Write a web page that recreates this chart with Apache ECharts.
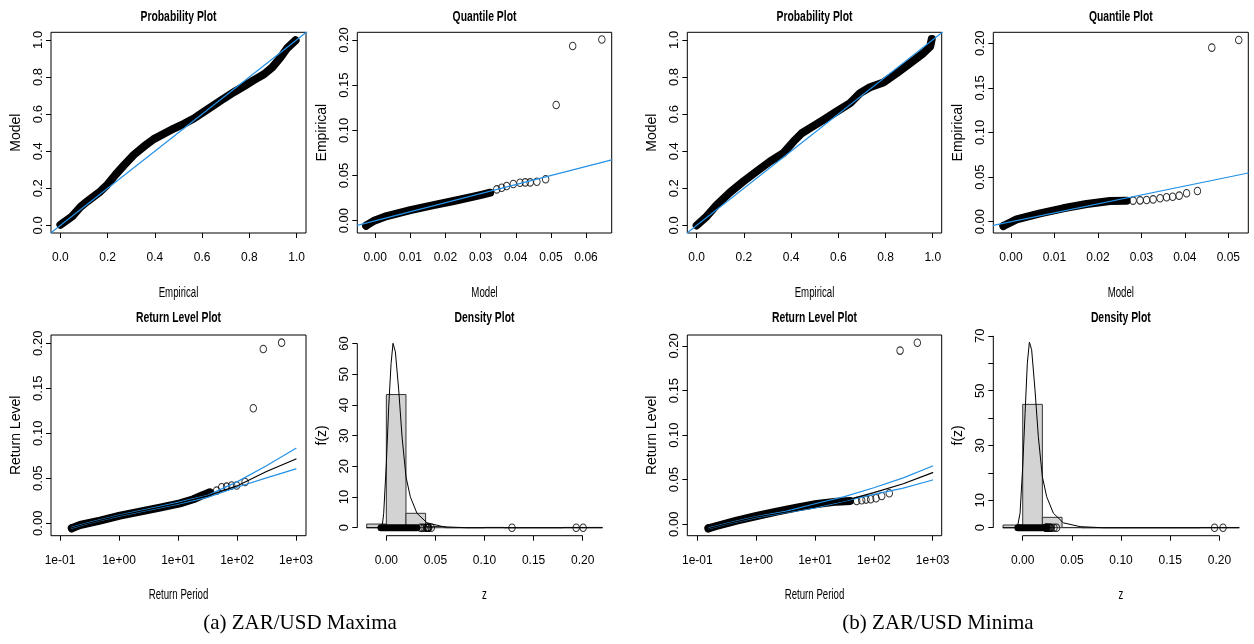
<!DOCTYPE html>
<html>
<head>
<meta charset="utf-8">
<script src="https://cdn.jsdelivr.net/npm/echarts@6/dist/echarts.min.js"></script>
<style>
  html, body { margin: 0; padding: 0; background: #fff; }
  #chart { width: 1254px; height: 644px; }
</style>
</head>
<body>
<div id="chart"></div>
<script>
// ---- tick values ----
const probTicks = [0, 0.2, 0.4, 0.6, 0.8, 1.0];
const quantMaxXTicks = [0, 0.01, 0.02, 0.03, 0.04, 0.05, 0.06];
const quantMinXTicks = [0, 0.01, 0.02, 0.03, 0.04, 0.05];
const levelTicks = [0, 0.05, 0.10, 0.15, 0.20];
const periodTicks = [0.1, 1, 10, 100, 1000];
const densXTicks = [0, 0.05, 0.10, 0.15, 0.20];
const densMaxYTicks = [0, 10, 20, 30, 40, 50, 60];
const densMinYTicks = [0, 10, 20, 30, 40, 50, 60, 70];
const densMinYLabels = [0, 10, 30, 50, 70];

// ---- probability plots: [empirical, model] along the dense run of points ----
const probMaxBand = [[0, 0.004], [0.049, 0.048], [0.085, 0.10], [0.113, 0.129], [0.141, 0.156],
  [0.169, 0.183], [0.198, 0.219], [0.233, 0.273], [0.268, 0.323], [0.311, 0.381], [0.353, 0.425],
  [0.395, 0.465], [0.438, 0.494], [0.480, 0.522], [0.523, 0.548], [0.565, 0.576], [0.607, 0.612],
  [0.650, 0.648], [0.692, 0.684], [0.734, 0.718], [0.777, 0.750], [0.819, 0.783], [0.862, 0.815],
  [0.897, 0.852], [0.932, 0.905], [0.960, 0.955], [0.996, 0.998]];
const probMinBand = [[0, 0.0], [0.042, 0.048], [0.085, 0.111], [0.141, 0.178], [0.198, 0.237],
  [0.254, 0.291], [0.311, 0.345], [0.367, 0.390], [0.410, 0.452], [0.445, 0.497], [0.480, 0.524],
  [0.537, 0.569], [0.593, 0.614], [0.650, 0.659], [0.692, 0.713], [0.734, 0.745], [0.791, 0.770],
  [0.847, 0.820], [0.904, 0.874], [0.960, 0.928], [0.989, 0.964], [0.996, 1.005]];

// ---- quantile plots: [model, empirical] ----
const quantMaxBand = [[-0.0026, -0.0055], [-0.0005, -0.0004], [0.0033, 0.0052], [0.010, 0.0118],
  [0.0166, 0.0173], [0.0223, 0.0218], [0.028, 0.0266], [0.0308, 0.0292], [0.0327, 0.031]];
const quantMaxPoints = [[0.0346, 0.0347], [0.036, 0.0365], [0.0374, 0.0384], [0.0393, 0.0406],
  [0.0412, 0.042], [0.0427, 0.0424], [0.0441, 0.0424], [0.046, 0.0432], [0.0485, 0.0458],
  [0.0515, 0.128], [0.0562, 0.1934], [0.0645, 0.2005]];
const quantMinBand = [[-0.00176, -0.0049], [0.0013, 0.0026], [0.0067, 0.0093], [0.012, 0.015],
  [0.0174, 0.0198], [0.0228, 0.0232], [0.0266, 0.0234]];
const quantMinPoints = [[0.0281, 0.0236], [0.0297, 0.0239], [0.0312, 0.0243], [0.0327, 0.025],
  [0.0343, 0.0262], [0.0358, 0.0273], [0.0372, 0.028], [0.0387, 0.0292], [0.0404, 0.0318],
  [0.0429, 0.0344], [0.0462, 0.1951], [0.0524, 0.2037]];

// ---- return level plots: [return period, level] ----
const rlPeriods = [0.158, 0.316, 1, 3.16, 10, 31.6, 100, 316, 1000];
const rlMaxFit = [-0.005, 0.0005, 0.0085, 0.0152, 0.0222, 0.0305, 0.0415, 0.0575, 0.0715];
const rlMaxUpper = [-0.0045, 0.001, 0.009, 0.016, 0.0232, 0.031, 0.046, 0.064, 0.0833];
const rlMaxLower = [-0.0055, 0, 0.008, 0.0145, 0.0212, 0.0288, 0.040, 0.0505, 0.0604];
const rlMinFit = [-0.0045, 0.0005, 0.008, 0.0135, 0.0195, 0.0265, 0.0355, 0.0455, 0.058];
const rlMinUpper = [-0.004, 0.001, 0.0085, 0.0145, 0.023, 0.031, 0.041, 0.052, 0.0654];
const rlMinLower = [-0.005, 0, 0.0075, 0.013, 0.0185, 0.026, 0.0335, 0.0405, 0.0497];
const rlMaxBand = [[0.158, -0.0056], [0.218, -0.0019], [0.476, 0.003], [1.04, 0.0085], [2.27, 0.013],
  [4.95, 0.0174], [10.8, 0.0222], [18.2, 0.0267], [26.8, 0.0315], [34.8, 0.0344]];
const rlMaxPoints = [[45.2, 0.0363], [55, 0.040], [66.8, 0.0407], [81.2, 0.0419], [98.6, 0.0419],
  [137, 0.0459], [189, 0.1278], [279, 0.1937], [571, 0.2007]];
const rlMinBand = [[0.154, -0.0045], [0.213, -0.0019], [0.467, 0.0041], [1.02, 0.0093], [2.23, 0.0142],
  [4.88, 0.0187], [10.7, 0.0228], [23.3, 0.0254], [39.4, 0.0262]];
const rlMinPoints = [[51.1, 0.0262], [62.1, 0.0269], [73.6, 0.0277], [88.3, 0.028], [109, 0.0292],
  [136, 0.0318], [183, 0.0348], [279, 0.1948], [548, 0.2037]];

// ---- density plots ----
const histBreaks = [-0.02, 0, 0.02, 0.04, 0.06, 0.08, 0.10, 0.12, 0.14, 0.16, 0.18, 0.20, 0.22];
const histMax = [1.2, 43.4, 4.7, 0.4, 0, 0, 0.1, 0, 0, 0, 0.1, 0.1];
const histMin = [1.0, 45.0, 3.8, 0.1, 0, 0, 0, 0, 0, 0, 0.1, 0.1];
const densMaxCurve = [[-0.02, 0], [-0.0044, 0], [-0.0027, 4.7], [0.0, 21], [0.0024, 39.4], [0.0048, 53.5],
  [0.0068, 60.1], [0.0092, 57.3], [0.0126, 44.9], [0.016, 29.6], [0.020, 16.6], [0.0244, 10.1],
  [0.0312, 4.7], [0.0414, 1.6], [0.0583, 0.3], [0.082, 0], [0.22, 0]];
const densMinCurve = [[-0.02, 0], [-0.0055, 0], [-0.0027, 5.3], [0.0, 22.3], [0.0024, 41.7], [0.0047, 60],
  [0.0068, 67.7], [0.0091, 64.9], [0.0125, 50.3], [0.0159, 33.2], [0.020, 18.6], [0.0244, 11.3],
  [0.0312, 5.3], [0.0413, 1.8], [0.0583, 0.4], [0.082, 0], [0.22, 0]];

const BLUE = '#2491e6';
const H = 200.7;
const panels = [
  { left: 51, top: 32.3, width: 255 },
  { left: 357.3, top: 32.3, width: 254.4 },
  { left: 51, top: 335, width: 255 },
  { left: 357.3, top: 335, width: 254.4 },
  { left: 687.3, top: 32.3, width: 254.4 },
  { left: 993.3, top: 32.3, width: 255 },
  { left: 687.3, top: 335, width: 254.4 },
  { left: 993.3, top: 335, width: 255 }
];
const boxed = [true, true, true, false, true, true, true, false];

const f1 = v => v.toFixed(1);
const f2 = v => v.toFixed(2);
const fInt = v => String(v);
const fExp = v => {
  const e = Math.round(v);
  return '1e' + (e < 0 ? '-' : '+') + String(Math.abs(e)).padStart(2, '0');
};
const log10 = v => Math.log10(v);

function xAx(i, min, max, ticks, fmt) {
  return {
    type: 'value', gridIndex: i, min: min, max: max, position: 'bottom',
    axisLine: { show: false, onZero: false }, splitLine: { show: false },
    axisTick: { show: true, inside: false, length: 5, customValues: ticks, lineStyle: { color: '#000' } },
    axisLabel: { customValues: ticks, formatter: fmt, margin: 19, fontSize: 12, color: '#000', fontFamily: 'Liberation Sans' }
  };
}
function yAx(i, min, max, ticks, fmt, name, labels) {
  return {
    type: 'value', gridIndex: i, min: min, max: max, position: 'left',
    name: name, nameLocation: 'middle', nameRotate: 90, nameGap: 28,
    nameTextStyle: { fontSize: 14, color: '#000', fontFamily: 'Liberation Sans' },
    axisLine: { show: false, onZero: false }, splitLine: { show: false },
    axisTick: { show: true, inside: false, length: 5, customValues: ticks, lineStyle: { color: '#000' } },
    axisLabel: { customValues: labels || ticks, formatter: fmt, rotate: 90, margin: 6, fontSize: 13, color: '#000', fontFamily: 'Liberation Sans' }
  };
}

const lineS = (i, data, color, width) => ({
  type: 'line', xAxisIndex: i, yAxisIndex: i, data: data, symbol: 'none', silent: true,
  lineStyle: { color: color, width: width, cap: 'round', join: 'round' }
});
const pointS = (i, data) => ({
  type: 'scatter', xAxisIndex: i, yAxisIndex: i, data: data, symbol: 'circle', symbolSize: [6.5, 7.5],
  silent: true, itemStyle: { color: 'rgba(0,0,0,0)', borderColor: '#000', borderWidth: 1 }
});
const histS = (i, heights) => ({
  type: 'custom', xAxisIndex: i, yAxisIndex: i, silent: true,
  data: heights.map((h, k) => [histBreaks[k], histBreaks[k + 1], h]),
  encode: { x: [0, 1], y: 2 },
  renderItem: function (params, api) {
    const p0 = api.coord([api.value(0), api.value(2)]);
    const p1 = api.coord([api.value(1), 0]);
    return {
      type: 'rect',
      shape: { x: p0[0], y: p0[1], width: p1[0] - p0[0], height: p1[1] - p0[1] },
      style: { fill: '#d3d3d3', stroke: '#333', lineWidth: 1 }
    };
  }
});
const axisLineS = (i, data) => ({
  type: 'line', xAxisIndex: i, yAxisIndex: i, data: data, symbol: 'none', silent: true, clip: false,
  lineStyle: { color: '#000', width: 1 }
});
const toLog = arr => arr.map(p => [log10(p[0]), p[1]]);
const curve = levels => levels.map((v, k) => [log10(rlPeriods[k]), v]);
const atZero = arr => arr.map(p => [p[1], 0]);

// axis ranges
const R = {
  p1x: [-0.04, 1.04], p1y: [-0.041, 1.041],
  p2x: [-0.0051, 0.0673], p2y: [-0.0136, 0.2085],
  p3x: [-1.153, 3.17], p3y: [-0.0138, 0.2092],
  p4x: [-0.0296, 0.2296], p4y: [-2.6, 62.8],
  p5x: [-0.0398, 1.038], p5y: [-0.041, 1.041],
  p6x: [-0.00407, 0.0546], p6y: [-0.0127, 0.2123],
  p7x: [-1.17, 3.153], p7y: [-0.0128, 0.2123],
  p8x: [-0.0299, 0.2294], p8y: [-2.9, 70.3]
};
const logTicks = periodTicks.map(log10);

const xAxes = [
  xAx(0, R.p1x[0], R.p1x[1], probTicks, f1),
  xAx(1, R.p2x[0], R.p2x[1], quantMaxXTicks, f2),
  xAx(2, R.p3x[0], R.p3x[1], logTicks, fExp),
  xAx(3, R.p4x[0], R.p4x[1], densXTicks, f2),
  xAx(4, R.p5x[0], R.p5x[1], probTicks, f1),
  xAx(5, R.p6x[0], R.p6x[1], quantMinXTicks, f2),
  xAx(6, R.p7x[0], R.p7x[1], logTicks, fExp),
  xAx(7, R.p8x[0], R.p8x[1], densXTicks, f2)
];
const yAxes = [
  yAx(0, R.p1y[0], R.p1y[1], probTicks, f1, 'Model'),
  yAx(1, R.p2y[0], R.p2y[1], levelTicks, f2, 'Empirical'),
  yAx(2, R.p3y[0], R.p3y[1], levelTicks, f2, 'Return Level'),
  yAx(3, R.p4y[0], R.p4y[1], densMaxYTicks, fInt, 'f(z)'),
  yAx(4, R.p5y[0], R.p5y[1], probTicks, f1, 'Model'),
  yAx(5, R.p6y[0], R.p6y[1], levelTicks, f2, 'Empirical'),
  yAx(6, R.p7y[0], R.p7y[1], levelTicks, f2, 'Return Level'),
  yAx(7, R.p8y[0], R.p8y[1], densMinYTicks, fInt, 'f(z)', densMinYLabels)
];

const series = [
  // probability plots
  lineS(0, probMaxBand, '#000', 8),
  lineS(0, [[R.p1x[0], R.p1x[0]], [R.p1x[1] + 0.01, R.p1x[1] + 0.01]], BLUE, 1.2),
  lineS(4, probMinBand, '#000', 8),
  lineS(4, [[R.p5x[0], R.p5x[0]], [R.p5x[1] + 0.01, R.p5x[1] + 0.01]], BLUE, 1.2),
  // quantile plots
  lineS(1, quantMaxBand, '#000', 8),
  pointS(1, quantMaxPoints),
  pointS(1, [quantMaxBand[0]]),
  lineS(1, [[R.p2x[0], R.p2x[0]], [R.p2x[1], R.p2x[1]]], BLUE, 1.2),
  lineS(5, quantMinBand, '#000', 8),
  pointS(5, quantMinPoints),
  pointS(5, [quantMinBand[0]]),
  lineS(5, [[R.p6x[0], R.p6x[0]], [R.p6x[1], R.p6x[1]]], BLUE, 1.2),
  // return level plots
  lineS(2, toLog(rlMaxBand), '#000', 8),
  pointS(2, toLog(rlMaxPoints)),
  pointS(2, toLog([rlMaxBand[0]])),
  lineS(2, curve(rlMaxUpper), BLUE, 1.2),
  lineS(2, curve(rlMaxLower), BLUE, 1.2),
  lineS(2, curve(rlMaxFit), '#000', 1.2),
  lineS(6, toLog(rlMinBand), '#000', 8),
  pointS(6, toLog(rlMinPoints)),
  pointS(6, toLog([rlMinBand[0]])),
  lineS(6, curve(rlMinUpper), BLUE, 1.2),
  lineS(6, curve(rlMinLower), BLUE, 1.2),
  lineS(6, curve(rlMinFit), '#000', 1.2),
  // density plots
  histS(3, histMax),
  lineS(3, densMaxCurve, '#000', 1),
  lineS(3, [[quantMaxBand[0][1], 0], [quantMaxBand[quantMaxBand.length - 1][1], 0]], '#000', 7),
  pointS(3, atZero(quantMaxPoints)),
  axisLineS(3, [[densXTicks[0], R.p4y[0]], [densXTicks[densXTicks.length - 1], R.p4y[0]]]),
  axisLineS(3, [[R.p4x[0], densMaxYTicks[0]], [R.p4x[0], densMaxYTicks[densMaxYTicks.length - 1]]]),
  histS(7, histMin),
  lineS(7, densMinCurve, '#000', 1),
  lineS(7, [[quantMinBand[0][1], 0], [quantMinBand[quantMinBand.length - 1][1], 0]], '#000', 7),
  pointS(7, atZero(quantMinPoints)),
  axisLineS(7, [[densXTicks[0], R.p8y[0]], [densXTicks[densXTicks.length - 1], R.p8y[0]]]),
  axisLineS(7, [[R.p8x[0], densMinYTicks[0]], [R.p8x[0], densMinYTicks[densMinYTicks.length - 1]]])
];

// titles and horizontal axis names (the source figure is horizontally condensed)
const hText = (txt, x, y, size, bold) => ({
  type: 'text', x: x, y: y, scaleX: 0.69, silent: true,
  style: {
    text: txt, fontSize: size, fontWeight: bold ? 'bold' : 'normal', fontFamily: 'Liberation Sans',
    fill: '#000', align: 'center', verticalAlign: 'middle', textAlign: 'center', textVerticalAlign: 'middle'
  }
});
const centers = panels.map(p => p.left + p.width / 2);
const titles = ['Probability Plot', 'Quantile Plot', 'Return Level Plot', 'Density Plot',
  'Probability Plot', 'Quantile Plot', 'Return Level Plot', 'Density Plot'];
const xNames = ['Empirical', 'Model', 'Return Period', 'z', 'Empirical', 'Model', 'Return Period', 'z'];
const graphics = [];
panels.forEach((p, i) => {
  const top = p.top < 100;
  graphics.push(hText(titles[i], centers[i], top ? 17 : 318, 15, true));
  graphics.push(hText(xNames[i], centers[i], top ? 293 : 595, 14, false));
});
graphics.push({ type: 'text', x: 300, y: 623, silent: true,
  style: { text: '(a) ZAR/USD Maxima', fontSize: 21, fontFamily: 'Liberation Serif', fill: '#000',
    align: 'center', verticalAlign: 'middle', textAlign: 'center', textVerticalAlign: 'middle' } });
graphics.push({ type: 'text', x: 938, y: 623, silent: true,
  style: { text: '(b) ZAR/USD Minima', fontSize: 21, fontFamily: 'Liberation Serif', fill: '#000',
    align: 'center', verticalAlign: 'middle', textAlign: 'center', textVerticalAlign: 'middle' } });

const chart = echarts.init(document.getElementById('chart'), null, { renderer: 'canvas' });
chart.setOption({
  animation: false,
  backgroundColor: '#fff',
  grid: panels.map((p, i) => ({
    left: p.left, top: p.top, width: p.width, height: H,
    show: boxed[i], borderColor: '#000', borderWidth: 1, backgroundColor: 'transparent'
  })),
  xAxis: xAxes,
  yAxis: yAxes,
  series: series,
  graphic: { elements: graphics }
});
</script>
</body>
</html>
